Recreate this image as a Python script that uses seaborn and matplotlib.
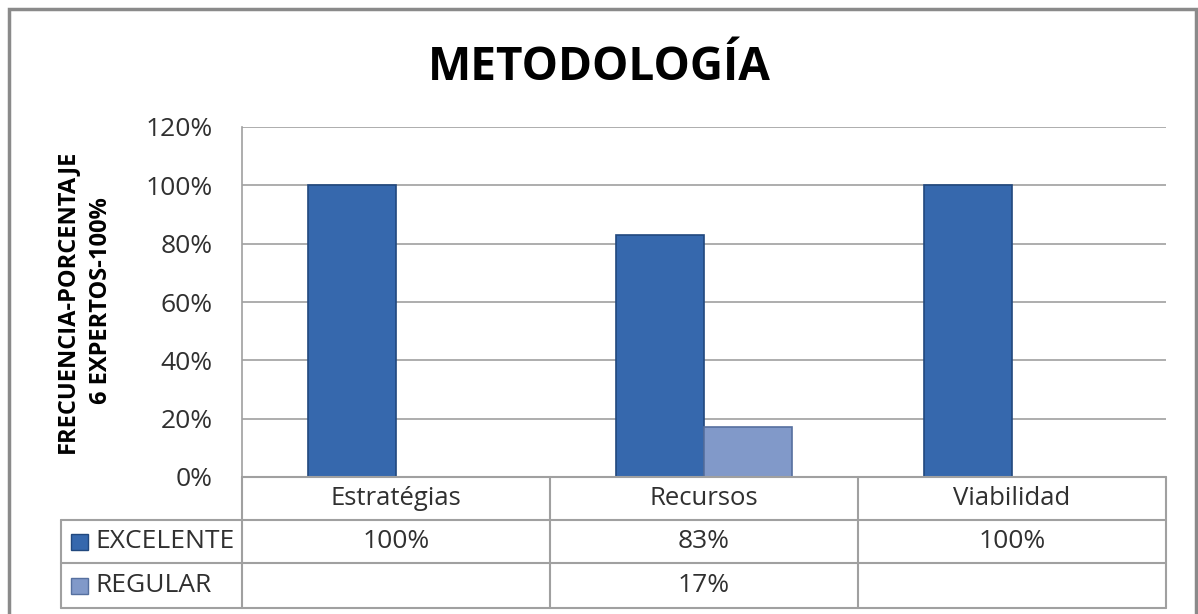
import pandas as pd
import matplotlib.pyplot as plt
import matplotlib.transforms as mtransforms
from matplotlib.patches import Rectangle
import seaborn as sns

# data
categories = ['Estratégias', 'Recursos', 'Viabilidad']
series_names = ['EXCELENTE', 'REGULAR']
excelente = [100, 83, 100]
regular = [None, 17, None]
ytick_vals = [0, 20, 40, 60, 80, 100, 120]

colors = {'EXCELENTE': '#3668AD', 'REGULAR': '#8199C9'}
edge_colors = {'EXCELENTE': '#21487E', 'REGULAR': '#56709F'}

df = pd.DataFrame({
    'Categoria': categories * 2,
    'Serie': ['EXCELENTE'] * 3 + ['REGULAR'] * 3,
    'Valor': excelente + [v if v is not None else 0 for v in regular],
})

sns.set_style('white')
plt.rcParams['font.family'] = ['Open Sans', 'DejaVu Sans']

fig = plt.figure(figsize=(11.98, 6.14), dpi=100)
ax = fig.add_axes([242 / 1198, 1 - 477 / 614, 924 / 1198, 350 / 614])

sns.barplot(data=df, x='Categoria', y='Valor', hue='Serie', order=categories,
            hue_order=series_names, palette=colors, width=0.572,
            saturation=1, ax=ax, legend=False)

# darker edges on the bars
for cont, name in zip(ax.containers, series_names):
    for bar in cont:
        bar.set_edgecolor(edge_colors[name])
        bar.set_linewidth(1.2)
        if bar.get_height() == 0:
            bar.set_visible(False)

ax.set_xlim(-0.5, 2.5)
ax.set_ylim(0, 120)
ax.set_yticks(ytick_vals)
ax.set_yticklabels([f'{v}%' for v in ytick_vals], fontsize=19, color='#303030')
ax.tick_params(axis='y', length=0, pad=21)
ax.set_xticks([])
ax.set_xlabel('')
ax.set_ylabel('')
ax.yaxis.grid(True, color='#A0A0A0', linewidth=1.2)
ax.set_axisbelow(True)
for side in ['top', 'right', 'bottom']:
    ax.spines[side].set_visible(False)
ax.spines['left'].set_color('#A0A0A0')
ax.spines['left'].set_linewidth(1.2)

# data table under the plot (x in data units, y in axes units)
trans = mtransforms.blended_transform_factory(ax.transData, ax.transAxes)
row_h = 43 / 350
line_kw = dict(color='#A0A0A0', linewidth=1.5, clip_on=False)
left_lbl = (61 - 242) / 924
y_rows = [0, -row_h, -2 * row_h, -3 * row_h - 2 / 350]
# horizontal lines
ax.plot([0, 1], [0, 0], transform=ax.transAxes, **line_kw)
for y in y_rows[1:]:
    ax.plot([left_lbl, 1], [y, y], transform=ax.transAxes, **line_kw)
# vertical lines
for xb in [-0.5, 0.5, 1.5, 2.5]:
    ax.plot([xb, xb], [0, y_rows[-1]], transform=trans, **line_kw)
ax.plot([left_lbl, left_lbl], [y_rows[1], y_rows[-1]], transform=ax.transAxes, **line_kw)

# column headers and values
txt_kw = dict(transform=trans, ha='center', va='center', color='#303030')
for i, cat in enumerate(categories):
    ax.text(i, -row_h / 2, cat, fontsize=18.5, **txt_kw)
    ax.text(i, (y_rows[1] + y_rows[2]) / 2, f'{excelente[i]}%', fontsize=19, **txt_kw)
    if regular[i] is not None:
        ax.text(i, (y_rows[2] + y_rows[3]) / 2, f'{regular[i]}%', fontsize=19, **txt_kw)

# row labels with legend keys
sw = 17 / 924
for r, name in enumerate(series_names):
    yc = (y_rows[r + 1] + y_rows[r + 2]) / 2
    key_x = (71 - 242) / 924
    ax.add_patch(Rectangle((key_x, yc - 8 / 350), sw, 16 / 350, transform=ax.transAxes,
                           facecolor=colors[name], edgecolor=edge_colors[name],
                           linewidth=1, clip_on=False))
    ax.text((95 - 242) / 924, yc, name, transform=ax.transAxes, ha='left', va='center',
            fontsize=19, color='#303030')

# title and y label
fig.text(0.5, 1 - 68 / 614, 'METODOLOGÍA', ha='center', va='center',
         fontsize=33, fontweight='bold', color='black')
fig.text(84 / 1198, 1 - 301 / 614, 'FRECUENCIA-PORCENTAJE\n6 EXPERTOS-100%',
         rotation=90, ha='center', va='center', fontsize=17, fontweight='bold',
         color='black', linespacing=1.55)

# outer chart frame
fig.patches.append(Rectangle((9 / 1198, -0.05), 1187 / 1198, 1.05 - 9 / 614,
                             transform=fig.transFigure, fill=False,
                             edgecolor='#8A8A8A', linewidth=2.5))

fig.savefig('out.png', dpi=100)
plt.close(fig)
